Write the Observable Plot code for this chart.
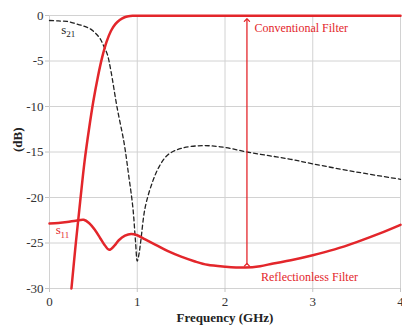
<!DOCTYPE html>
<html>
<head>
<meta charset="utf-8">
<script src="https://cdn.jsdelivr.net/npm/d3@7"></script>
<script src="https://cdn.jsdelivr.net/npm/@observablehq/plot@0.6"></script>
<style>
  html, body { margin: 0; padding: 0; background: #fff; }
</style>
</head>
<body>
<script>
// Tick values
const xTicks = [0, 1, 2, 3, 4];
const yTicks = [-30, -25, -20, -15, -10, -5, 0];

// Conventional filter, dashed black curve (s21)
const freqS21 = [0, 0.1, 0.2, 0.3, 0.4, 0.47, 0.53, 0.58, 0.62, 0.66, 0.7, 0.77, 0.85, 0.9, 0.95, 0.98, 1.0, 1.02, 1.04, 1.09, 1.17, 1.25, 1.35, 1.5, 1.75, 2.0, 2.25, 2.5, 2.75, 3.0, 3.5, 4.0];
const dbS21   = [-0.55, -0.6, -0.65, -0.9, -1.2, -1.5, -2.0, -2.6, -3.4, -4.3, -6.1, -10.1, -14.0, -17.4, -21.1, -24.8, -27.0, -26.2, -24.8, -21.1, -18.4, -16.6, -15.3, -14.6, -14.3, -14.5, -15.0, -15.4, -15.8, -16.3, -17.2, -18.0];

// Solid red rising curve (passband)
const freqConv = [0.25, 0.30, 0.35, 0.40, 0.45, 0.50, 0.55, 0.60, 0.65, 0.70, 0.75, 0.80, 0.85, 0.90, 0.95, 1.0, 1.5, 2.0, 2.5, 3.0, 3.5, 4.0];
const dbConv   = [-30, -25.0, -20.4, -16.0, -12.5, -9.4, -6.8, -4.6, -2.9, -1.7, -0.95, -0.5, -0.22, -0.08, -0.03, -0.02, -0.02, -0.02, -0.02, -0.02, -0.02, -0.02];

// Reflectionless filter s11 (red)
const freqRefl = [0, 0.1, 0.2, 0.3, 0.39, 0.45, 0.52, 0.58, 0.62, 0.68, 0.74, 0.79, 0.86, 0.93, 1.0, 1.09, 1.21, 1.35, 1.5, 1.65, 1.8, 2.0, 2.23, 2.4, 2.55, 2.75, 3.0, 3.25, 3.5, 3.75, 4.0];
const dbRefl   = [-22.85, -22.8, -22.7, -22.55, -22.45, -22.8, -23.6, -24.5, -25.1, -25.75, -25.3, -24.7, -24.2, -24.0, -24.15, -24.6, -25.2, -25.9, -26.5, -27.0, -27.4, -27.6, -27.7, -27.55, -27.25, -26.9, -26.35, -25.7, -24.9, -24.0, -23.0];

// Annotations
const arrowX = [2.25];
const arrowTop = [-0.5];
const arrowBottom = [-27.4];
const labels = [
  {x: 2.335, y: -1.35, text: "Conventional Filter"},
  {x: 2.41, y: -28.8, text: "Reflectionless Filter"}
];
const seriesLabels = [
  {x: 0.135, y: -1.55, text: "s", size: 13, color: "#222"},
  {x: 0.19, y: -2.05, text: "21", size: 9, color: "#222"},
  {x: 0.07, y: -23.6, text: "s", size: 13, color: "#e3262b"},
  {x: 0.125, y: -24.1, text: "11", size: 9, color: "#e3262b"}
];
const xLabel = ["Frequency (GHz)"];
const yLabel = ["(dB)"];

const RED = "#e3262b";
const s21 = freqS21.map((f, i) => ({f, db: dbS21[i]}));
const conv = freqConv.map((f, i) => ({f, db: dbConv[i]}));
const refl = freqRefl.map((f, i) => ({f, db: dbRefl[i]}));
const arrows = arrowX.map((x, i) => ({x, y1: arrowTop[i], y2: arrowBottom[i]}));

const chart = Plot.plot({
  width: 402,
  height: 327,
  marginLeft: 49,
  marginRight: 2,
  marginTop: 15,
  marginBottom: 39,
  style: {fontFamily: "Liberation Serif", fontSize: "13px", background: "#fff", color: "#333"},
  x: {domain: [0, 4]},
  y: {domain: [-30, 0]},
  marks: [
    Plot.gridX(xTicks, {stroke: "#d2d2d2", strokeOpacity: 1}),
    Plot.gridY(yTicks, {stroke: "#d2d2d2", strokeOpacity: 1}),
    Plot.axisX(xTicks, {tickSize: 4, tickPadding: 4, tickFormat: d => String(d), stroke: "#c4c4c4", fill: "#333", label: null}),
    Plot.axisY(yTicks, {tickSize: 4, tickPadding: 2, tickFormat: d => String(d), stroke: "#c4c4c4", fill: "#333", label: null}),
    Plot.line(s21, {x: "f", y: "db", stroke: "#222", strokeWidth: 1.3, strokeDasharray: "4,3", curve: "catmull-rom"}),
    Plot.line(refl, {x: "f", y: "db", stroke: RED, strokeWidth: 2.5, curve: "catmull-rom"}),
    Plot.line(conv, {x: "f", y: "db", stroke: RED, strokeWidth: 2.5, curve: "catmull-rom"}),
    Plot.link(arrows, {x1: "x", x2: "x", y1: "y2", y2: "y1", stroke: RED, strokeWidth: 1.3, markerStart: "arrow", markerEnd: "arrow"}),
    Plot.text(labels, {x: "x", y: "y", text: "text", fill: RED, fontSize: 12, textAnchor: "start"}),
    Plot.text(seriesLabels, {x: "x", y: "y", text: "text", fill: "color", fontSize: "size", textAnchor: "start"}),
    Plot.text(xLabel, {frameAnchor: "bottom", dy: 33, fontWeight: "bold", fontSize: 13, fill: "#222"}),
    Plot.text(yLabel, {frameAnchor: "left", dx: -32, rotate: -90, fontWeight: "bold", fontSize: 13, fill: "#222"})
  ]
});
document.body.appendChild(chart);
</script>
</body>
</html>
